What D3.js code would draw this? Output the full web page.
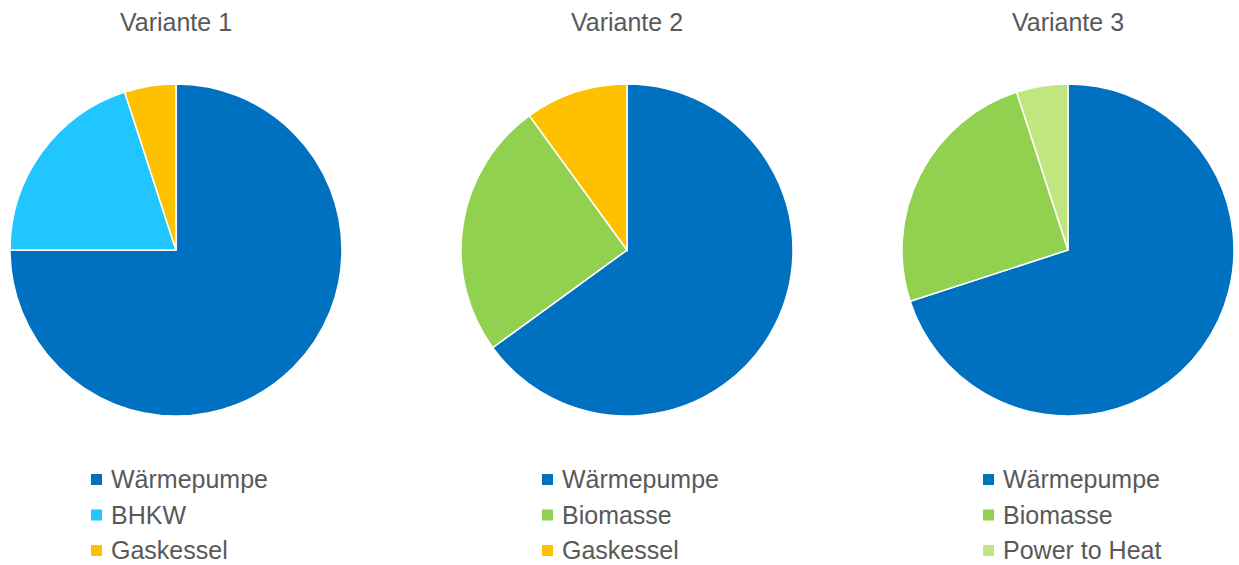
<!DOCTYPE html>
<html>
<head>
<meta charset="utf-8">
<script src="https://cdn.jsdelivr.net/npm/d3@7"></script>
<style>
  body { margin: 0; background: #fff; }
  text { font-family: Arial, "Liberation Sans", sans-serif; }
</style>
</head>
<body>
<svg id="chart" width="1239" height="565"></svg>
<script>
// Daten der drei Varianten
const titles = ["Variante 1", "Variante 2", "Variante 3"];
const labels1 = ["Wärmepumpe", "BHKW", "Gaskessel"];
const labels2 = ["Wärmepumpe", "Biomasse", "Gaskessel"];
const labels3 = ["Wärmepumpe", "Biomasse", "Power to Heat"];
const values1 = [75, 20, 5];
const values2 = [65, 25, 10];
const values3 = [70, 25, 5];

const colors = {
  "Wärmepumpe": "#0070C0",
  "BHKW": "#21C5FF",
  "Gaskessel": "#FFC000",
  "Biomasse": "#92D050",
  "Power to Heat": "#C0E77F"
};

const variants = [
  { title: titles[0], labels: labels1, values: values1 },
  { title: titles[1], labels: labels2, values: values2 },
  { title: titles[2], labels: labels3, values: values3 }
];

const svg = d3.select("#chart");
const centerX = [176, 627, 1068];  // pie centres
const cy = 250, radius = 166;

const pie = d3.pie().sort(null).value(d => d.v);
const arc = d3.arc().innerRadius(0).outerRadius(radius);

variants.forEach((vr, i) => {
  const cx = centerX[i];
  const g = svg.append("g").attr("transform", `translate(${cx},${cy})`);

  const data = vr.labels.map((l, k) => ({ label: l, v: vr.values[k] }));
  g.selectAll("path")
    .data(pie(data))
    .enter()
    .append("path")
    .attr("d", arc)
    .attr("fill", d => colors[d.data.label])
    .attr("stroke", "#fff")
    .attr("stroke-width", 1.5);

  // Titel
  svg.append("text")
    .attr("x", cx)
    .attr("y", 31)
    .attr("text-anchor", "middle")
    .attr("font-size", 25)
    .attr("fill", "#595959")
    .text(vr.title);

  // Legende
  const lx = cx - 85;
  const leg = svg.append("g").attr("transform", `translate(${lx},0)`);
  vr.labels.forEach((l, k) => {
    const y = 488 + k * 35.5;
    leg.append("rect")
      .attr("x", 0).attr("y", y - 14)
      .attr("width", 11).attr("height", 11)
      .attr("fill", colors[l]);
    leg.append("text")
      .attr("x", 20).attr("y", y)
      .attr("font-size", 25)
      .attr("fill", "#595959")
      .text(l);
  });
});
</script>
</body>
</html>
